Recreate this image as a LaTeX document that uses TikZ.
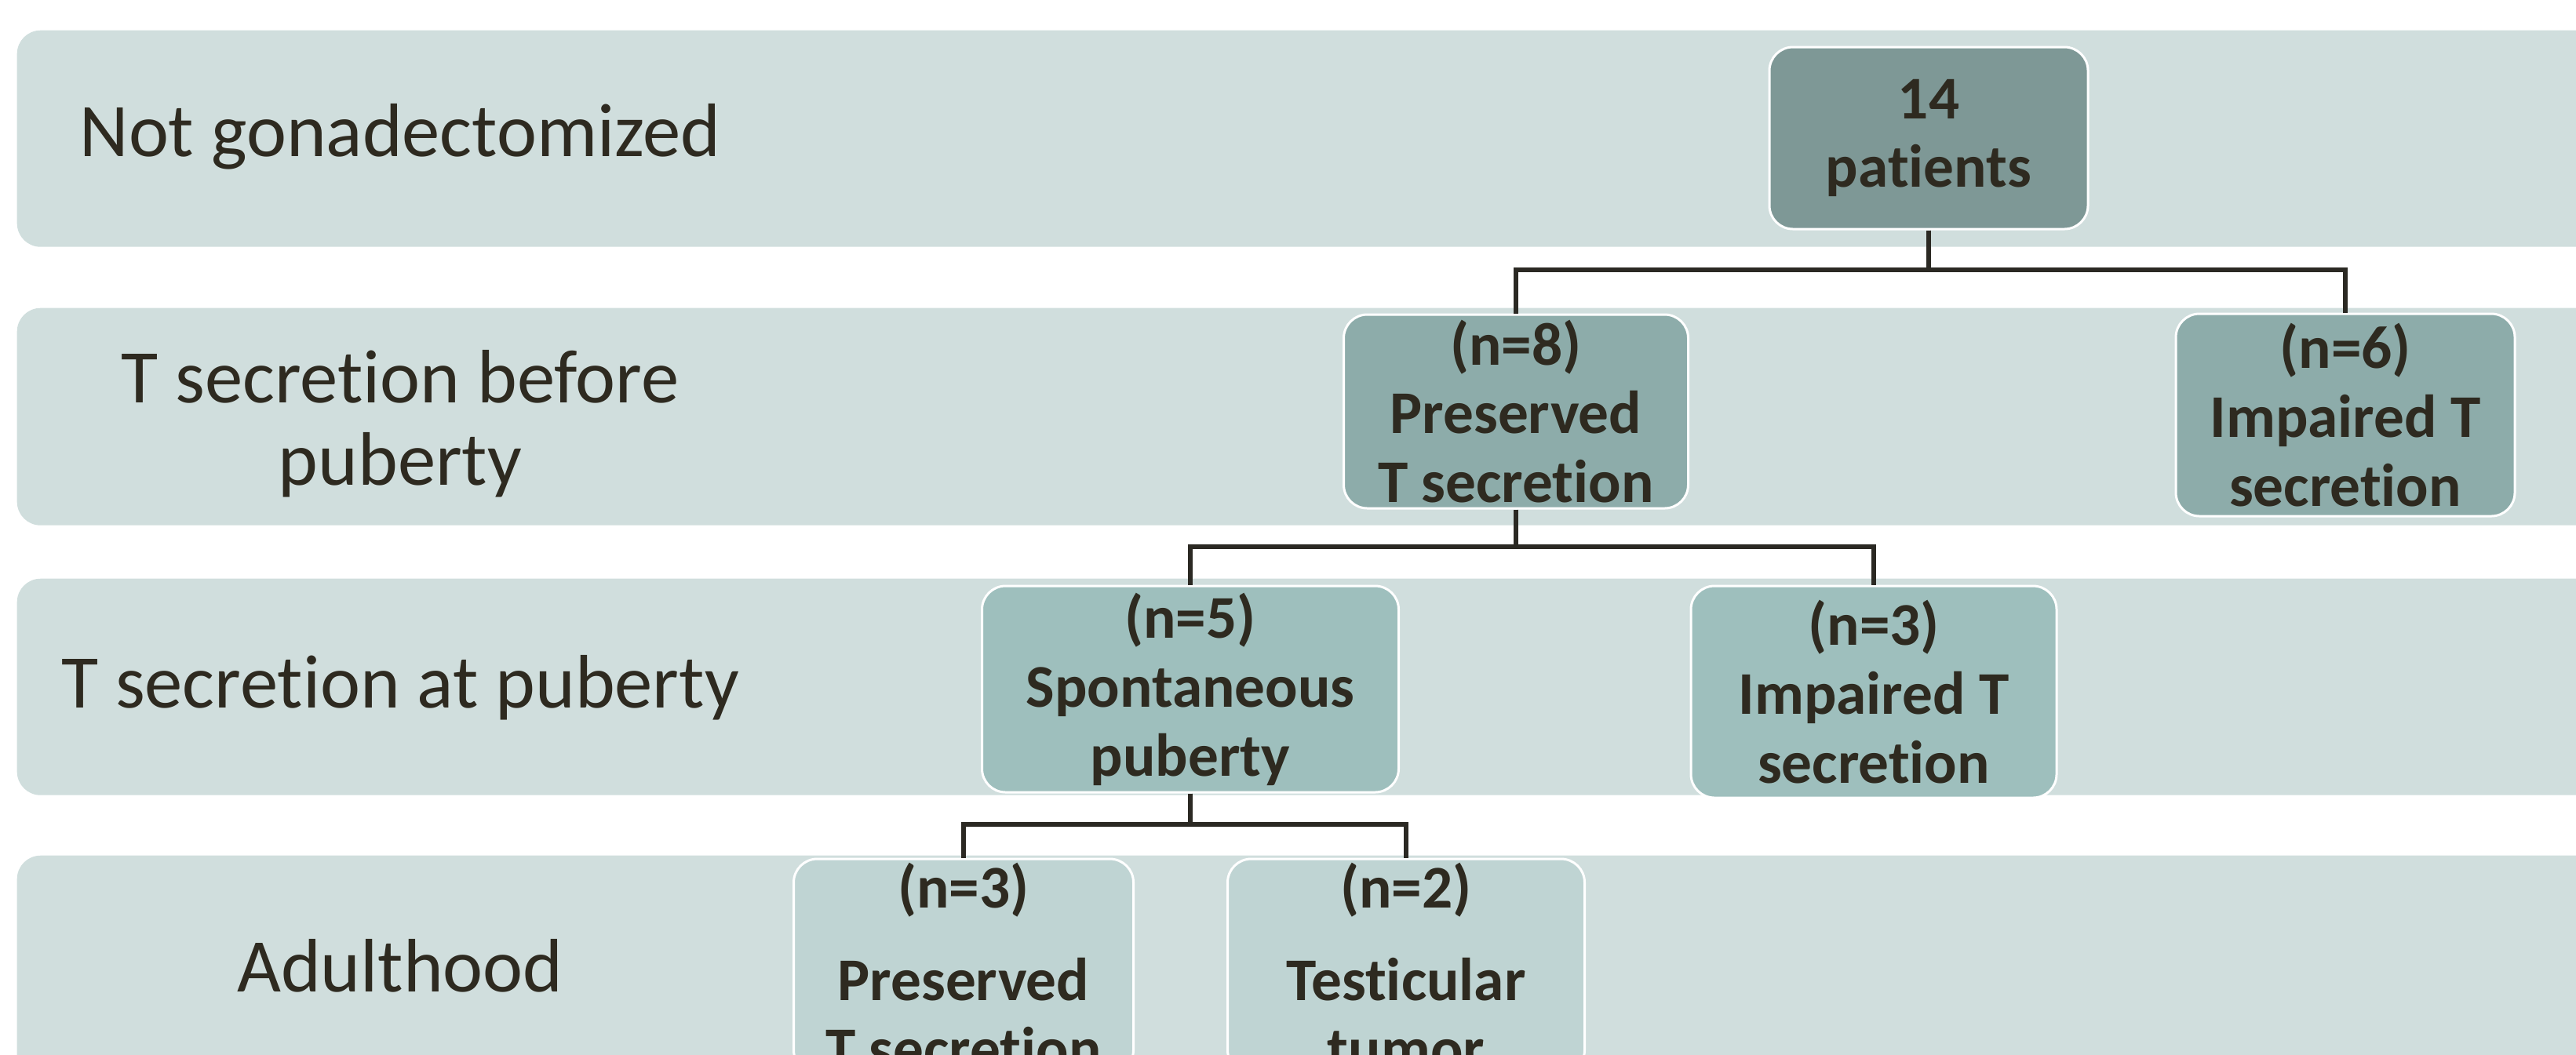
\documentclass[tikz,border=0pt]{standalone}
\usepackage{fontspec}
\setmainfont[Ligatures=NoCommon]{Carlito}
\usepackage{xcolor}
\usepackage{tikz}
\usetikzlibrary{positioning}
\definecolor{bandbg}{HTML}{D0DEDD}
\definecolor{lvlA}{HTML}{7E9896}
\definecolor{lvlB}{HTML}{8DACAA}
\definecolor{lvlC}{HTML}{9EBFBD}
\definecolor{lvlD}{HTML}{BFD4D3}
\definecolor{inkc}{HTML}{2E2A20}
\definecolor{wirec}{HTML}{2B2923}
\tikzset{
    band/.style={
        rectangle,
        fill=bandbg,
        rounded corners=0.3cm,
        inner sep=0pt,
        minimum width=34cm,
        anchor=north west
    },
    stagelabel/.style={
        text=inkc,
        align=center,
        font=\fontsize{27.5}{30}\selectfont
    },
    group/.style={
        rectangle,
        draw=white,
        line width=0.03cm,
        rounded corners=0.3cm,
        inner xsep=0.1cm,
        inner ysep=0.05cm,
        align=center,
        text=inkc,
        font=\fontsize{22}{25}\selectfont\bfseries
    },
    wire/.style={
        draw=wirec,
        line width=0.06cm
    }
}

\begin{document}
\begin{tikzpicture}

\useasboundingbox (0,0) rectangle (32.83,-13.44);
\clip (0,0) rectangle (32.83,-13.44);

% Stage bands
\node[band, minimum height=2.76cm] (b1) at (0.21,-0.38) {};
\node[band, minimum height=2.77cm] (b2) at (0.21,-3.92) {};
\node[band, minimum height=2.76cm] (b3) at (0.21,-7.37) {};
\node[band, minimum height=3.5cm] (b4) at (0.21,-10.90) {};

% Stage labels
\node[stagelabel] (l1) at (5.1,-1.74) {Not gonadectomized};
\node[stagelabel] (l2) at (5.1,-5.40) {T secretion before\\puberty};
\node[stagelabel] (l3) at (5.1,-8.77) {T secretion at puberty};
\node[stagelabel] (l4) at (5.1,-12.31) {Adulthood};

% All patients
\node[group, fill=lvlA, minimum width=4.06cm, minimum height=2.32cm] (root) at (24.58,-1.76) {14\\patients};

% Before puberty
\node[group, fill=lvlB, below=1.06cm of root, xshift=-5.26cm, minimum width=4.39cm, minimum height=2.47cm] (pres) {(n=8)\\Preserved\\T secretion};
\node[group, fill=lvlB, below=1.05cm of root, xshift=5.31cm, minimum width=4.32cm, minimum height=2.58cm] (imp6) {(n=6)\\Impaired T\\secretion};

% At puberty
\node[group, fill=lvlC, below=0.96cm of pres, xshift=-4.15cm, minimum width=5.31cm, minimum height=2.63cm] (spont) {(n=5)\\Spontaneous\\puberty};
\node[group, fill=lvlC, below=0.96cm of pres, xshift=4.56cm, minimum width=4.66cm, minimum height=2.70cm] (imp3) {(n=3)\\Impaired T\\secretion};

% Adulthood
\node[group, fill=lvlD, below=0.82cm of spont, xshift=-2.89cm, minimum width=4.33cm] (adpres) {(n=3)\\[0.3cm]Preserved\\T secretion};
\node[group, fill=lvlD, below=0.82cm of spont, xshift=2.75cm, minimum width=4.55cm] (tumor) {(n=2)\\[0.3cm]Testicular\\tumor};

\draw[wire] (root.south) -- ++(0,-0.5) -| (pres.north);
\draw[wire] (root.south) -- ++(0,-0.5) -| (imp6.north);

\draw[wire] (pres.south) -- ++(0,-0.47) -| (spont.north);
\draw[wire] (pres.south) -- ++(0,-0.47) -| (imp3.north);

\draw[wire] (spont.south) -- ++(0,-0.39) -| (adpres.north);
\draw[wire] (spont.south) -- ++(0,-0.39) -| (tumor.north);

\end{tikzpicture}
\end{document}
